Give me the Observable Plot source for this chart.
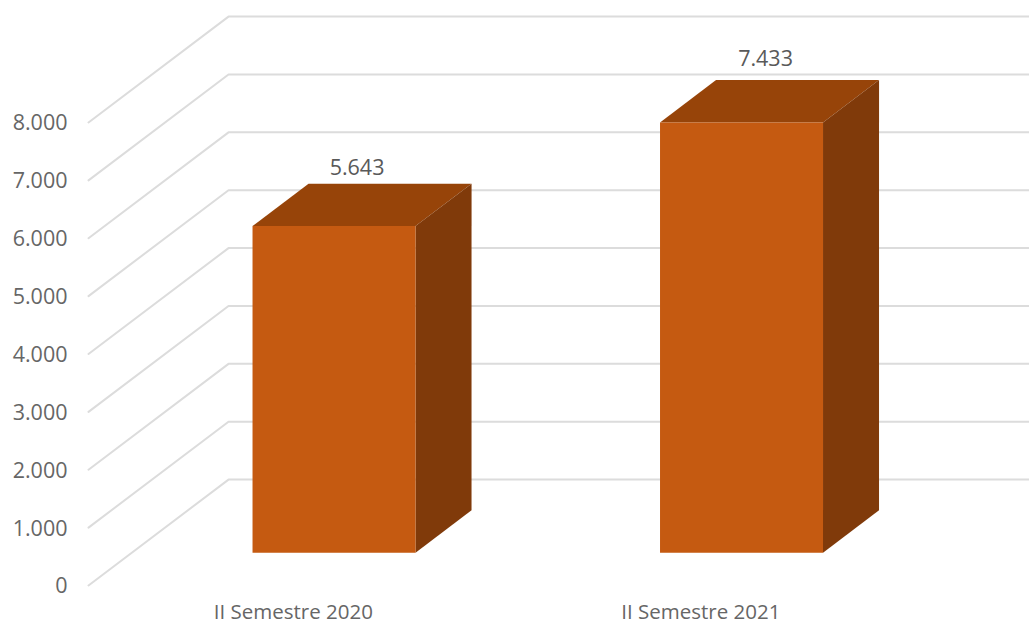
<!DOCTYPE html>
<html>
<head>
<meta charset="utf-8">
<script src="https://cdn.jsdelivr.net/npm/d3@7"></script>
<script src="https://cdn.jsdelivr.net/npm/@observablehq/plot@0.6"></script>
<style>
html,body{margin:0;padding:0;background:#fff;}
svg{display:block;}
</style>
</head>
<body>
<div id="chart"></div>
<script>
const categories = ["II Semestre 2020", "II Semestre 2021"];
const values = [5643, 7433];
const tickValues = [0, 1000, 2000, 3000, 4000, 5000, 6000, 7000, 8000];

const fmt = d3.formatLocale({decimal: ",", thousands: ".", grouping: [3], currency: ["", ""]}).format(",d");

// Oblique 3D projection, expressed in the units of the x and y scales
const depthX = 0.3436, depthY = 1830;
const project = (x, v, d) => ({x: x + depthX * d, y: v + depthY * d});
const barFront = 0.31, barBack = 0.71, barHalf = 0.2, barCentre = 0.496;

const grid = tickValues.flatMap((v) => [
  {k: v, ...project(0, v, 0)},
  {k: v, ...project(0, v, 1)},
  {k: v, ...project(2.2, v, 1)}
]);

const faces = {front: [], top: [], side: []};
categories.forEach((c, i) => {
  const x0 = i + barCentre - barHalf, x1 = i + barCentre + barHalf, v = values[i];
  const add = (name, pts) => pts.forEach(([x, y, d]) => faces[name].push({k: c, ...project(x, y, d)}));
  add("front", [[x0, 0, barFront], [x1, 0, barFront], [x1, v, barFront], [x0, v, barFront]]);
  add("top", [[x0, v, barFront], [x1, v, barFront], [x1, v, barBack], [x0, v, barBack]]);
  add("side", [[x1, 0, barFront], [x1, 0, barBack], [x1, v, barBack], [x1, v, barFront]]);
});

const labels = categories.map((c, i) => ({
  text: fmt(values[i]),
  ...project(i + barCentre, values[i], barBack)
}));

const font = "'Open Sans', sans-serif";
const face = (rows, fill) => Plot.line(rows, {x: "x", y: "y", z: "k", fill, stroke: null, curve: "linear-closed"});
const valueLabel = (row, dx, dy) => Plot.text([row], {x: "x", y: "y", text: "text", dx, dy, fontSize: 21.5, fill: "#595959"});

const chart = Plot.plot({
  width: 1029,
  height: 625,
  marginLeft: 88,
  marginRight: 126,
  marginTop: 122,
  marginBottom: 40,
  style: {fontFamily: font, background: "#fff"},
  x: {domain: [0, 2]},
  y: {domain: [0, 8000]},
  marks: [
    Plot.line(grid, {x: "x", y: "y", z: "k", stroke: "#dcdcdc", strokeWidth: 2}),
    face(faces.top, "#974409"),
    face(faces.side, "#803a0a"),
    face(faces.front, "#c55a11"),
    valueLabel(labels[0], -33, -16),
    valueLabel(labels[1], -32, -21),
    Plot.axisY({ticks: tickValues, tickFormat: fmt, tickSize: 0, tickPadding: 21, dy: 1, fontSize: 21.5, color: "#666666", label: null}),
    Plot.axisX({
      ticks: categories.map((c, i) => i + 0.5),
      tickFormat: (d) => categories[d - 0.5],
      tickSize: 0, tickPadding: 19, fontSize: 20.5, dx: 1, color: "#666666", label: null
    })
  ]
});
document.getElementById("chart").appendChild(chart);
</script>
</body>
</html>
